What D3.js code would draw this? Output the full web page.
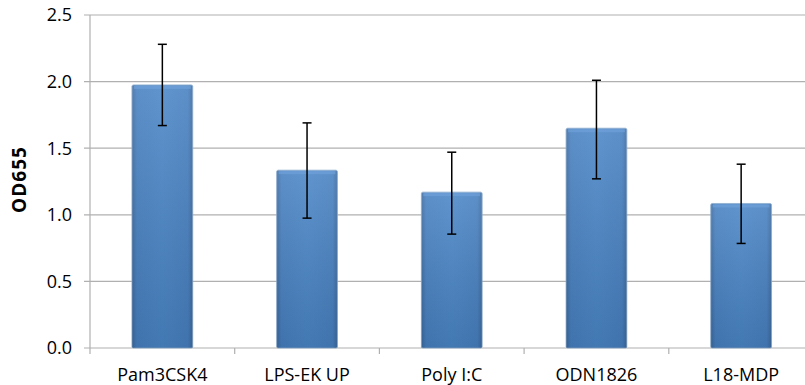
<!DOCTYPE html>
<html><head><meta charset="utf-8">
<script src="https://cdn.jsdelivr.net/npm/d3@7"></script>
<style>body{margin:0;background:#fff}svg{display:block}text{font-family:"Open Sans",sans-serif}</style>
</head><body>
<svg id="c" width="805" height="385"></svg>
<script>
const categories = ["Pam3CSK4","LPS-EK UP","Poly I:C","ODN1826","L18-MDP"];
const values = [1.975, 1.335, 1.17, 1.65, 1.085];
const errUpper = [2.28, 1.69, 1.47, 2.01, 1.38];
const errLower = [1.67, 0.975, 0.855, 1.27, 0.785];
const yTicks = [0, 0.5, 1.0, 1.5, 2.0, 2.5];

(function(){
const svg = d3.select("#c");
const pLeft = 90, pRight = 813.5, pTop = 15, pBottom = 348;
const x = d3.scaleBand().domain(categories).range([pLeft, pRight]).padding(0);
const y = d3.scaleLinear().domain([0, 2.5]).range([pBottom, pTop]);

const defs = svg.append("defs");
const gh = defs.append("linearGradient").attr("id","gh").attr("x1",0).attr("x2",1).attr("y1",0).attr("y2",0);
gh.append("stop").attr("offset","0%").attr("stop-color","#3b6aa0");
gh.append("stop").attr("offset","8%").attr("stop-color","#4780c0");
gh.append("stop").attr("offset","50%").attr("stop-color","#4a86c7");
gh.append("stop").attr("offset","92%").attr("stop-color","#4780c0");
gh.append("stop").attr("offset","100%").attr("stop-color","#3b6aa0");
const gv = defs.append("linearGradient").attr("id","gv").attr("x1",0).attr("x2",0).attr("y1",0).attr("y2",1);
gv.append("stop").attr("offset","0%").attr("stop-color","#ffffff").attr("stop-opacity",0.12);
gv.append("stop").attr("offset","100%").attr("stop-color","#000000").attr("stop-opacity",0.1);

svg.append("g").selectAll("line").data(yTicks).join("line")
  .attr("x1", pLeft - 6).attr("x2", 805)
  .attr("y1", d => y(d)).attr("y2", d => y(d))
  .attr("stroke", "#b0b0b0").attr("stroke-width", 1.2);
svg.append("line").attr("x1", pLeft).attr("x2", pLeft).attr("y1", pTop).attr("y2", pBottom)
  .attr("stroke", "#b0b0b0").attr("stroke-width", 1.2);
const xt = categories.map(c => x(c)).concat([pRight]);
svg.append("g").selectAll("line").data(xt).join("line")
  .attr("x1", d => d).attr("x2", d => d).attr("y1", pBottom).attr("y2", pBottom + 6)
  .attr("stroke", "#b0b0b0").attr("stroke-width", 1.2);

svg.append("g").selectAll("text").data(yTicks).join("text")
  .attr("x", 72).attr("y", d => y(d)).attr("dy", "0.36em")
  .attr("text-anchor", "end").attr("font-size", 18).attr("fill", "#000")
  .text(d => d.toFixed(1));
svg.append("g").selectAll("text").data(categories).join("text")
  .attr("x", d => x(d) + x.bandwidth()/2).attr("y", 381)
  .attr("text-anchor", "middle").attr("font-size", 18).attr("fill", "#000")
  .text(d => d);
svg.append("text").attr("transform", "translate(26," + ((pTop+pBottom)/2 - 2) + ") rotate(-90)")
  .attr("text-anchor", "middle").attr("font-size", 19).attr("font-weight", "bold")
  .attr("letter-spacing", 1).text("OD655");

const bw = x.bandwidth() * 0.42;
const bars = svg.append("g").selectAll("g").data(categories).join("g");
bars.append("rect")
  .attr("x", d => x(d) + (x.bandwidth() - bw)/2).attr("width", bw)
  .attr("y", (d,i) => y(values[i])).attr("height", (d,i) => y(0) - y(values[i]))
  .attr("fill", "url(#gh)").attr("stroke", "#8aa9cc").attr("stroke-width", 0.8).attr("rx", 1.5);
bars.append("rect")
  .attr("x", d => x(d) + (x.bandwidth() - bw)/2).attr("width", bw)
  .attr("y", (d,i) => y(values[i])).attr("height", (d,i) => y(0) - y(values[i]))
  .attr("fill", "url(#gv)");
bars.append("rect")
  .attr("x", d => x(d) + (x.bandwidth() - bw)/2 + 2).attr("width", bw - 4)
  .attr("y", (d,i) => y(values[i]) + 1).attr("height", 3)
  .attr("fill", "#6fa0d8").attr("opacity", 0.7);

const eb = svg.append("g").attr("stroke", "#000").attr("stroke-width", 1.5);
categories.forEach((c, i) => {
  const cx = x(c) + x.bandwidth()/2;
  eb.append("line").attr("x1", cx).attr("x2", cx).attr("y1", y(errUpper[i])).attr("y2", y(errLower[i]));
  eb.append("line").attr("x1", cx - 4.5).attr("x2", cx + 4.5).attr("y1", y(errUpper[i])).attr("y2", y(errUpper[i]));
  eb.append("line").attr("x1", cx - 4.5).attr("x2", cx + 4.5).attr("y1", y(errLower[i])).attr("y2", y(errLower[i]));
});
})();
</script>
</body></html>
